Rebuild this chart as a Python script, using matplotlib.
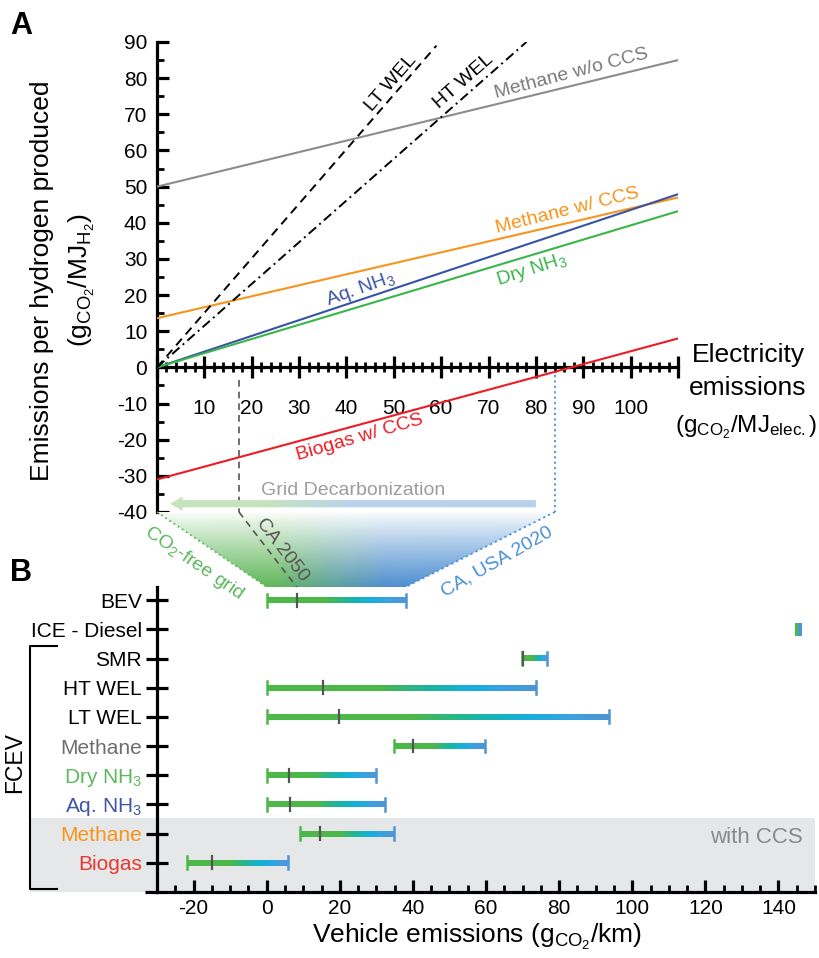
import matplotlib.pyplot as plt
import numpy as np
import matplotlib.transforms as mtransforms
from matplotlib.colors import LinearSegmentedColormap
from matplotlib.patches import Polygon, Rectangle
from matplotlib.ticker import MultipleLocator, FuncFormatter

plt.rcParams['font.family'] = ['Liberation Sans', 'DejaVu Sans']
plt.rcParams['mathtext.fontset'] = 'custom'
plt.rcParams['mathtext.rm'] = 'Liberation Sans'
plt.rcParams['mathtext.it'] = 'Liberation Sans:italic'
plt.rcParams['mathtext.default'] = 'regular'
plt.rcParams['axes.unicode_minus'] = False

# ---- panel A: g CO2 per MJ H2 against electricity emissions ----
elec = [0, 110]
methane_wo_ccs = [50, 85]
methane_w_ccs = [13.6, 47]
aq_nh3 = [0, 47.9]
dry_nh3 = [0, 43.2]
biogas_ccs = [-31, 8]
lt_wel_x = [0, 59]
lt_wel = [0, 89]
ht_wel_x = [0, 78]
ht_wel = [0, 90]
ca_2050 = 17.3
ca_2020 = 84

# ---- panel B: vehicle emissions ranges ----
rows = ['BEV', 'ICE - Diesel', 'SMR', 'HT WEL', 'LT WEL', 'Methane',
        'Dry NH$_3$', 'Aq. NH$_3$', 'Methane', 'Biogas']
row_colors = ['black', 'black', 'black', 'black', 'black',
              '#6d6e71', '#5cb85c', '#4055a8', '#f7941d', '#e8382f']
low = [0, 144.5, 69.8, 0, 0, 34.8, 0, 0, 9.1, -21.9]
high = [38, 146.3, 76.6, 73.7, 93.7, 59.6, 29.9, 32.3, 34.8, 5.9]
mid = [8.2, None, 70.2, 15.3, 19.9, 39.9, 6.2, 6.5, 14.7, -14.9]

GREEN = '#4cb848'
BLUE = '#4e95d3'

bar_cmap = LinearSegmentedColormap.from_list('bar', [
    (0, GREEN), (0.42, GREEN), (0.6, '#1cb5a0'), (0.75, '#14b0dc'),
    (0.88, '#3aa3e0'), (1, BLUE)])
arrow_cmap = LinearSegmentedColormap.from_list('arr', [
    (0, '#c6e3bd'), (0.25, '#c6e3bd'), (0.5, '#b9d3ec'), (1, '#b7d1ec')])
trap_cmap = LinearSegmentedColormap.from_list('trap', [
    (0, '#5cb85c'), (0.3, '#62b65a'), (0.45, '#5c9fa0'), (0.58, '#4f8fd0'),
    (1, '#4a8cd0')])

W, H = 819, 958
fig = plt.figure(figsize=(W / 100, H / 100), dpi=100)

# ================= panel A =================
ax_a = fig.add_axes([157 / W, 1 - 512 / H, (678 - 157) / W, (512 - 42) / H])
ax_a.set_facecolor('none')
ax_a.set_xlim(0, 110)
ax_a.set_ylim(-40, 90)
ax_a.spines['top'].set_visible(False)
ax_a.spines['right'].set_visible(False)
ax_a.spines['bottom'].set_position(('data', 0))
ax_a.spines['left'].set_linewidth(2.3)
ax_a.spines['bottom'].set_linewidth(2.3)
ax_a.xaxis.set_major_locator(MultipleLocator(10))
ax_a.xaxis.set_minor_locator(MultipleLocator(2))
ax_a.yaxis.set_major_locator(MultipleLocator(10))
ax_a.yaxis.set_minor_locator(MultipleLocator(5))
ax_a.xaxis.set_major_formatter(FuncFormatter(
    lambda v, _: '' if v < 1 or v > 105 else f'{v:.0f}'))
ax_a.tick_params(axis='x', which='major', direction='inout', length=16,
                 width=2.3, pad=15, labelsize=15)
ax_a.tick_params(axis='x', which='minor', direction='inout', length=7,
                 width=2)
ax_a.tick_params(axis='y', which='major', direction='in', length=8.5,
                 width=2.3, pad=7, labelsize=15)
ax_a.tick_params(axis='y', which='minor', direction='in', length=5, width=2)

ax_a.plot(elec, methane_wo_ccs, color='#8c8c8c', lw=1.5, zorder=3)
ax_a.plot(elec, methane_w_ccs, color='#f7941d', lw=1.5, zorder=3)
ax_a.plot(elec, aq_nh3, color='#3953a4', lw=1.5, zorder=3)
ax_a.plot(elec, dry_nh3, color='#39b54a', lw=1.5, zorder=3)
ax_a.plot(elec, biogas_ccs, color='#ed1c24', lw=1.5, zorder=3)
ax_a.plot(lt_wel_x, lt_wel, color='black', lw=1.4, ls=(0, (4.5, 3)), zorder=3)
ax_a.plot(ht_wel_x, ht_wel, color='black', lw=1.4,
          ls=(0, (5, 2.2, 1, 2.2)), zorder=3)


def screen_angle(ax, x, y):
    p = ax.transData.transform(np.column_stack([x, y]))
    d = p[-1] - p[0]
    return np.degrees(np.arctan2(d[1], d[0]))


def line_label(x, y, s, lx, ly, color, extra=1.0):
    ang = screen_angle(ax_a, x, y) + extra
    ax_a.text(lx, ly, s, color=color, fontsize=14, rotation=ang,
              rotation_mode='anchor', ha='center', va='center')


line_label(lt_wel_x, lt_wel, 'LT WEL', 49.4, 78.7, 'black', 0)
line_label(ht_wel_x, ht_wel, 'HT WEL', 64.8, 79.0, 'black', 0)
line_label(elec, methane_wo_ccs, 'Methane w/o CCS', 87.6, 81.2, '#7a7a7a')
line_label(elec, methane_w_ccs, 'Methane w/ CCS', 86.6, 43.2, '#f7941d')
line_label(elec, dry_nh3, 'Dry NH$_3$', 79.2, 26.9, '#39b54a')
line_label(elec, aq_nh3, 'Aq. NH$_3$', 42.9, 21.6, '#3953a4')
line_label(elec, biogas_ccs, 'Biogas w/ CCS', 42.9, -19.4, '#ed1c24')

# grid references
ax_a.plot([ca_2050, ca_2050], [-3.5, -40], color='#555555', lw=1.2,
          ls=(0, (4, 3)), zorder=2)
ax_a.plot([ca_2020, ca_2020], [-2, -40], color='#4a90d9', lw=1.3,
          ls=(0, (1.2, 1.8)), zorder=2)

# gradient arrow
tip, base_x, tail, yc = 2.8, 5.4, 80, -37.7
arrow_pts = [(tip, yc), (base_x, yc + 2.0), (base_x, yc + 1.0), (tail, yc + 1.0),
             (tail, yc - 1.0), (base_x, yc - 1.0), (base_x, yc - 2.0)]
im = ax_a.imshow(np.linspace(0, 1, 256)[None, :], cmap=arrow_cmap,
                 extent=(tip, tail, yc - 2.0, yc + 2.0), aspect='auto',
                 interpolation='bilinear', zorder=2)
im.set_clip_path(Polygon(arrow_pts, closed=True, transform=ax_a.transData))
ax_a.text(41.4, -34.1, 'Grid Decarbonization', color='#9d9d9d', fontsize=14,
          ha='center', va='center')
ax_a.set_xlim(0, 110)
ax_a.set_ylim(-40, 90)

fig.text(10 / W, 1 - 26 / H, 'A', fontsize=22, fontweight='bold', va='center')
fig.text(42 / W, 1 - 281 / H, 'Emissions per hydrogen produced', rotation=90,
         fontsize=19, ha='center', va='center')
fig.text(82 / W, 1 - 280 / H, '(g$_{CO_2}$/MJ$_{H_2}$)', rotation=90,
         fontsize=19, ha='center', va='center')
fig.text(748 / W, 1 - 355 / H, 'Electricity', fontsize=19, ha='center',
         va='center')
fig.text(748 / W, 1 - 388 / H, 'emissions', fontsize=19, ha='center',
         va='center')
fig.text(746 / W, 1 - 427 / H, '(g$_{CO_2}$/MJ$_{elec.}$)', fontsize=17.5,
         ha='center', va='center')

# ================= panel B =================
ytop_b = 10.45
ax_b = fig.add_axes([157 / W, 1 - 892 / H, (815 - 157) / W, 305 / H])
ax_b.set_facecolor('none')
ax_b.spines['top'].set_visible(False)
ax_b.spines['right'].set_visible(False)
ax_b.spines['left'].set_linewidth(2.3)
ax_b.spines['bottom'].set_linewidth(2.3)
ypos = np.arange(len(rows), 0, -1)

grad = np.linspace(0, 1, 256)[None, :]
for i in range(len(rows)):
    y = ypos[i]
    if mid[i] is None:
        ax_b.imshow(np.array([[0.0, 1.0]]), cmap=bar_cmap,
                    extent=(low[i], high[i], y - 0.22, y + 0.22),
                    aspect='auto', interpolation='nearest', zorder=3)
        continue
    ax_b.imshow(grad, cmap=bar_cmap, extent=(low[i], high[i], y - 0.1, y + 0.1),
                aspect='auto', interpolation='bilinear', zorder=3)
    ax_b.plot([low[i]] * 2, [y - 0.22, y + 0.22], color=GREEN, lw=1.8, zorder=4)
    ax_b.plot([high[i]] * 2, [y - 0.22, y + 0.22], color=BLUE, lw=1.8, zorder=4)
    ax_b.plot([mid[i]] * 2, [y - 0.22, y + 0.22], color='#555555', lw=1.6,
              zorder=5)

ax_b.set_xlim(-30, 150)
ax_b.set_ylim(0, ytop_b)
ax_b.set_yticks(ypos)
ax_b.set_yticklabels(rows)
for lbl, c in zip(ax_b.get_yticklabels(), row_colors):
    lbl.set_color(c)
ax_b.xaxis.set_major_locator(MultipleLocator(20))
ax_b.xaxis.set_minor_locator(MultipleLocator(5))
ax_b.tick_params(axis='y', direction='inout', length=16, width=2.3, pad=3,
                 labelsize=15)
ax_b.tick_params(axis='x', which='major', direction='in', length=9, width=2.3,
                 pad=5, labelsize=15)
ax_b.tick_params(axis='x', which='minor', direction='in', length=5, width=2)

# "with CCS" band and FCEV bracket
trans = mtransforms.blended_transform_factory(fig.transFigure, ax_b.transData)
ax_b.add_patch(Rectangle((30 / W, 0), (815 - 30) / W, 2.55, transform=trans,
                         color='#e6e7e8', zorder=0, clip_on=False, lw=0))
ax_b.plot([57 / W, 30 / W, 30 / W, 57 / W], [8.43, 8.43, 0.1, 0.1],
          transform=trans, color='black', lw=1.5, clip_on=False)
ax_b.plot([145 / W, 157 / W], [0, 0], transform=trans, color='black', lw=2.3,
          clip_on=False, solid_capstyle='butt')
ax_b.text(134, 1.88, 'with CCS', color='#8a8a8a', fontsize=16, ha='center',
          va='center')
fig.text(15 / W, 1 - 763 / H, 'FCEV', rotation=90, fontsize=16.5, ha='center',
         va='center')
fig.text(477 / W, 1 - 937 / H, 'Vehicle emissions (g$_{CO_2}$/km)', fontsize=19,
         ha='center', va='center')
fig.text(10 / W, 1 - 573 / H, 'B', fontsize=22, fontweight='bold', va='center')

# ================= link between panels =================
ov = fig.add_axes([0, 0, 1, 1])
ov.set_xlim(0, W)
ov.set_ylim(0, H)
ov.axis('off')


def to_ov(ax, x, y):
    return ov.transData.inverted().transform(ax.transData.transform((x, y)))


TL = to_ov(ax_a, 0, -40)
TR = to_ov(ax_a, ca_2020, -40)
BL = to_ov(ax_b, low[0], ytop_b)
BR = to_ov(ax_b, high[0], ytop_b)
C1 = to_ov(ax_a, ca_2050, -40)
C2 = to_ov(ax_b, mid[0], ytop_b)

u = np.linspace(0, 1, 300)
v = np.linspace(0, 1, 150)
base = trap_cmap(u)[:, :3]
a = ((1 - v) ** 0.9)[:, None, None]
rgb = 1 - a * (1 - base[None, :, :])
im2 = ov.imshow(rgb, origin='lower', extent=(TL[0], TR[0], BL[1], TL[1]),
                aspect='auto', interpolation='bilinear', zorder=1)
im2.set_clip_path(Polygon([TL, TR, BR, BL], closed=True, transform=ov.transData))
ov.plot([TL[0], BL[0]], [TL[1], BL[1]], color='#5cb85c', lw=1.2,
        ls=(0, (1.2, 1.8)), zorder=2)
ov.plot([TR[0], BR[0]], [TR[1], BR[1]], color='#4a90d9', lw=1.3,
        ls=(0, (1.2, 1.8)), zorder=2)
ov.plot([C1[0], C2[0]], [C1[1], C2[1]], color='#555555', lw=1.2,
        ls=(0, (4, 3)), zorder=2)
ov.set_xlim(0, W)
ov.set_ylim(0, H)


def seg_angle(p, q):
    return np.degrees(np.arctan2(q[1] - p[1], q[0] - p[0]))


ov.text(194, H - 563, 'CO$_2$-free grid', color='#5cb85c', fontsize=14,
        rotation=seg_angle(TL, BL), rotation_mode='anchor', ha='center',
        va='center')
ov.text(282, H - 550, 'CA 2050', color='#555555', fontsize=14,
        rotation=seg_angle(C1, C2), rotation_mode='anchor', ha='center',
        va='center')
ov.text(497, H - 562, 'CA, USA 2020', color='#4a90d9', fontsize=14,
        rotation=seg_angle(BR, TR) + 3, rotation_mode='anchor', ha='center',
        va='center')

fig.savefig('out.png', dpi=100)
